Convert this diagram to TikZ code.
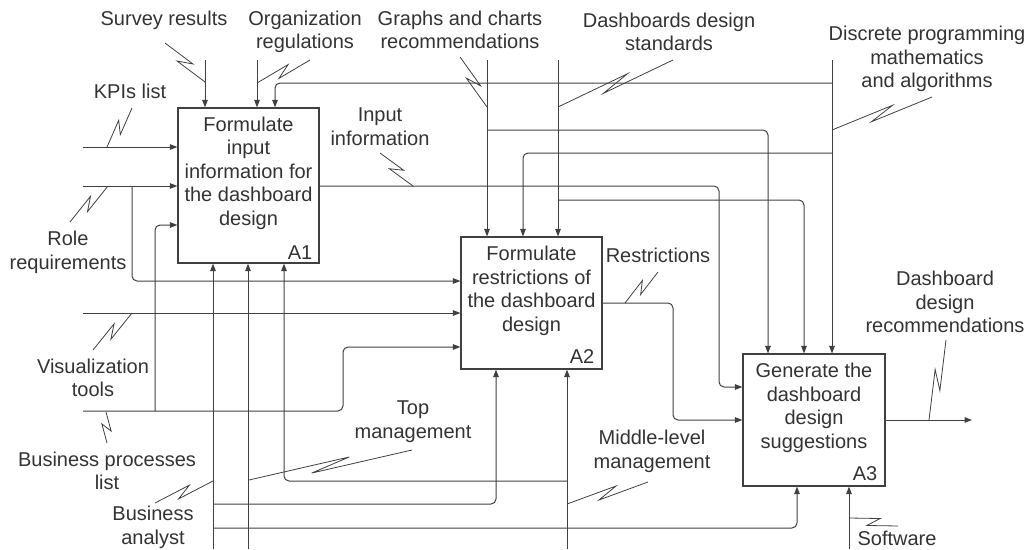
\documentclass[tikz,border=0pt]{standalone}
\usepackage{fontspec}
\setmainfont{Liberation Sans}
\usetikzlibrary{arrows.meta,calc}
\definecolor{ink}{HTML}{333333}
\definecolor{wire}{HTML}{404040}
\newcommand\squig[2]{\draw[sq] (#1) -- ($(#1)!0.62!(#2)!4.5pt!90:(#2)$) -- ($(#1)!0.38!(#2)!4.5pt!-90:(#2)$) -- (#2);}
\begin{document}
\begin{tikzpicture}[x=1pt,y=-1pt,
  txt/.style={text=ink, font=\fontsize{20}{23.5}\selectfont, align=center, inner sep=0pt},
  box/.style={draw=wire, line width=1.1pt, fill=white, inner sep=0pt},
  flow/.style={draw=wire, line width=1pt, rounded corners=5pt},
  arr/.style={flow, -{Triangle[length=7.5pt,width=5.5pt]}},
  sq/.style={draw=wire, line width=0.8pt}]
\useasboundingbox (0,0) rectangle (1033,549);

% boxes
\node[box, minimum width=141pt, minimum height=155pt] (A1) at (248.5,185.5) {};
\node[box, minimum width=141pt, minimum height=132pt] (A2) at (531.5,303) {};
\node[box, minimum width=142pt, minimum height=132pt] (A3) at (814,420) {};
\node[txt] (A1t) at (248.5,173) {Formulate\\input\\information for\\the dashboard\\design};
\node[txt] (A1n) at (300,253) {A1};
\node[txt] (A2t) at (531.5,291) {Formulate\\restrictions of\\the dashboard\\design};
\node[txt] (A2n) at (582,357) {A2};
\node[txt] (A3t) at (814,408) {Generate the\\dashboard\\design\\suggestions};
\node[txt] (A3n) at (865,474) {A3};

% inputs
\coordinate (kpiS) at (83,147);
\draw[arr] (kpiS) -- (kpiS -| A1.west);
\coordinate (roleS) at (83,186);
\coordinate (roleB) at (132,186);
\coordinate (roleC) at (132,281);
\draw[arr] (roleS) -- (roleS -| A1.west);
\draw[arr] (roleB) -- (roleC) -- (roleC -| A2.west);
\coordinate (bpS) at (83,411);
\coordinate (bpC1) at (343,411);
\coordinate (bpC2) at (343,347);
\draw[arr] (bpS) -- (bpC1) -- (bpC2) -- (bpC2 -| A2.west);
\coordinate (bpB) at (155,411);
\coordinate (bpB2) at (155,225);
\draw[arr] (bpB) -- (bpB2) -- (bpB2 -| A1.west);
\coordinate (visS) at (83,313);
\draw[arr] (visS) -- (visS -| A2.west);

% controls
\coordinate (svS) at (205,60);
\draw[arr] (svS) -- (svS |- A1.north);
\coordinate (orS) at (257,60);
\draw[arr] (orS) -- (orS |- A1.north);
\coordinate (dpS) at (832,60);
\draw[arr] (dpS) -- (dpS |- A3.north);
\coordinate (dpB1) at (832,83);
\coordinate (dpC1) at (275,83);
\draw[arr] (dpB1) -- (dpC1) -- (dpC1 |- A1.north);
\coordinate (dpB2) at (832,153);
\coordinate (dpC2) at (523,153);
\draw[arr] (dpB2) -- (dpC2) -- (dpC2 |- A2.north);
\coordinate (gcS) at (487,60);
\draw[arr] (gcS) -- (gcS |- A2.north);
\coordinate (gcB) at (487,130);
\coordinate (gcC) at (768,130);
\draw[arr] (gcB) -- (gcC) -- (gcC |- A3.north);
\coordinate (dsS) at (558,60);
\draw[arr] (dsS) -- (dsS |- A2.north);
\coordinate (dsB) at (558,200);
\coordinate (dsC) at (804,200);
\draw[arr] (dsB) -- (dsC) -- (dsC |- A3.north);

% outputs
\coordinate (iiC1) at (719,186);
\coordinate (iiC2) at (719,387);
\draw[arr] (A1.east |- iiC1) -- (iiC1) -- (iiC2) -- (iiC2 -| A3.west);
\coordinate (rsC1) at (673,303);
\coordinate (rsC2) at (673,420);
\draw[arr] (A2.east |- rsC1) -- (rsC1) -- (rsC2) -- (rsC2 -| A3.west);
\coordinate (outE) at (972,420);
\draw[arr] (A3.east |- outE) -- (outE);

% mechanisms
\coordinate (baS) at (213,549);
\draw[arr] (baS) -- (baS |- A1.south);
\coordinate (baB1) at (213,504);
\coordinate (baC1) at (496,504);
\draw[arr] (baB1) -- (baC1) -- (baC1 |- A2.south);
\coordinate (baB2) at (213,528);
\coordinate (baC2) at (797,528);
\draw[arr] (baB2) -- (baC2) -- (baC2 |- A3.south);
\coordinate (tmS) at (248,549);
\draw[arr] (tmS) -- (tmS |- A1.south);
\coordinate (mlS) at (567,549);
\draw[arr] (mlS) -- (mlS |- A2.south);
\coordinate (mlB) at (567,481);
\coordinate (mlC) at (284,481);
\draw[arr] (mlB) -- (mlC) -- (mlC |- A1.south);
\coordinate (swS) at (849,549);
\draw[arr] (swS) -- (swS |- A3.south);

% labels
\node[txt] (lSurvey) at (164,20) {Survey results};
\node[txt] (lOrg) at (305,32) {Organization\\regulations};
\node[txt] (lGraph) at (460,30) {Graphs and charts\\recommendations};
\node[txt] (lDash) at (669,32) {Dashboards design\\standards};
\node[txt] (lDisc) at (927,59) {Discrete programming\\mathematics\\and algorithms};
\node[txt] (lKpi) at (130,91) {KPIs list};
\node[txt] (lInput) at (380,126.5) {Input\\information};
\node[txt] (lRole) at (68,252.5) {Role\\requirements};
\node[txt] (lRestr) at (658,255) {Restrictions};
\node[txt] (lVis) at (93,378) {Visualization\\tools};
\node[txt] (lBp) at (107,471) {Business processes\\list};
\node[txt] (lTop) at (413,421.5) {Top\\management};
\node[txt] (lMid) at (652,451.5) {Middle-level\\management};
\node[txt] (lBa) at (153,527.5) {Business\\analyst};
\node[txt] (lOut) at (945,302) {Dashboard\\design\\recommendations};
\node[txt] (lSw) at (897,538) {Software};

% squiggles
\coordinate (qSvP) at (205,82);   \coordinate (qSvQ) at (165,43);   \squig{qSvP}{qSvQ}
\coordinate (qOrP) at (257,83);   \coordinate (qOrQ) at (310,60);   \squig{qOrP}{qOrQ}
\coordinate (qKpP) at (107,147);  \coordinate (qKpQ) at (132,108);  \squig{qKpP}{qKpQ}
\coordinate (qRoP) at (108,186);  \coordinate (qRoQ) at (70,222);   \squig{qRoP}{qRoQ}
\coordinate (qIiP) at (413,186);  \coordinate (qIiQ) at (380,153);  \squig{qIiP}{qIiQ}
\coordinate (qGcP) at (487,107);  \coordinate (qGcQ) at (460,57);   \squig{qGcP}{qGcQ}
\coordinate (qDsP) at (558,107);  \coordinate (qDsQ) at (673,60);   \squig{qDsP}{qDsQ}
\coordinate (qDpP) at (832,130);  \coordinate (qDpQ) at (932,97);   \squig{qDpP}{qDpQ}
\coordinate (qViP) at (132,313);  \coordinate (qViQ) at (93,350);   \squig{qViP}{qViQ}
\coordinate (qBpP) at (106,412);  \coordinate (qBpQ) at (107,443);  \squig{qBpP}{qBpQ}
\coordinate (qBaP) at (213,481);  \coordinate (qBaQ) at (155,503);  \squig{qBaP}{qBaQ}
\coordinate (qTmP) at (249,480);  \coordinate (qTmQ) at (412,450);  \squig{qTmP}{qTmQ}
\coordinate (qMlP) at (567,504);  \coordinate (qMlQ) at (648,482);  \squig{qMlP}{qMlQ}
\coordinate (qRsP) at (625,303);  \coordinate (qRsQ) at (658,272);  \squig{qRsP}{qRsQ}
\coordinate (qOuP) at (929,420);  \coordinate (qOuQ) at (946,340);  \squig{qOuP}{qOuQ}
\coordinate (qSwP) at (849,518);  \coordinate (qSwQ) at (898,526);  \squig{qSwP}{qSwQ}
\end{tikzpicture}
\end{document}
